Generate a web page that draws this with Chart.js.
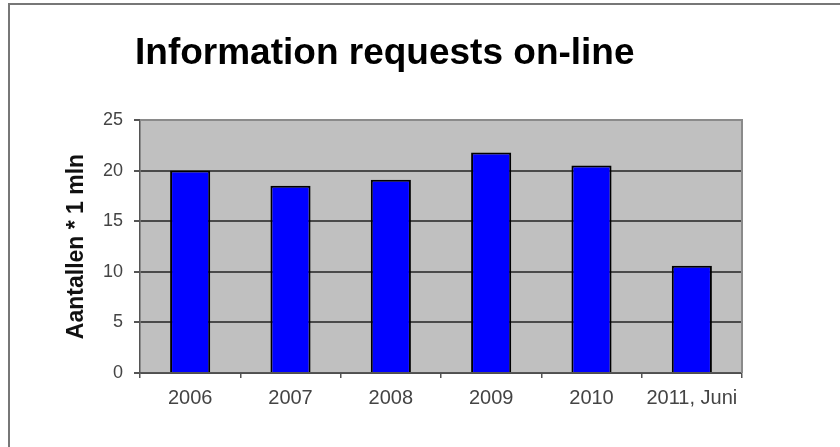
<!DOCTYPE html>
<html>
<head>
<meta charset="utf-8">
<script src="https://cdn.jsdelivr.net/npm/chart.js@4/dist/chart.umd.min.js"></script>
<style>
  html, body { margin: 0; padding: 0; background: #fff; }
  #wrap { position: relative; width: 840px; height: 447px; overflow: hidden; }
  #frame { position: absolute; left: 8px; top: 3px; right: -4px; bottom: -4px;
           border-top: 2px solid #777; border-left: 2px solid #777; }
  #myBarChart { position: absolute; left: 0; top: 0; }
</style>
</head>
<body>
<div id="wrap">
  <div id="frame"></div>
  <canvas id="myBarChart" width="840" height="447"></canvas>
</div>
<script>
var years = ['2006', '2007', '2008', '2009', '2010', '2011, Juni'];
var requests = [20.0, 18.5, 19.1, 21.8, 20.5, 10.6];
var yTicks = [0, 5, 10, 15, 20, 25];

// grey plot area + title text, like the old Excel chart
var plotBox = {
  id: 'plotBox',
  beforeDraw: function(chart) {
    var a = chart.chartArea, c = chart.ctx;
    c.save();
    c.fillStyle = '#c0c0c0';
    c.fillRect(a.left, a.top, a.right - a.left, a.bottom - a.top);
    c.restore();
  },
  beforeDatasetsDraw: function(chart) {
    var a = chart.chartArea, c = chart.ctx;
    c.save();
    c.strokeStyle = '#8a8a8a';
    c.lineWidth = 2;
    c.beginPath();
    c.moveTo(a.left, a.top);
    c.lineTo(a.right, a.top);
    c.lineTo(a.right, a.bottom);
    c.stroke();
    c.restore();
  },
  afterDraw: function(chart) {
    var c = chart.ctx;
    c.save();
    c.fillStyle = '#000';
    c.font = 'bold 37px "Liberation Sans", Arial, sans-serif';
    c.textBaseline = 'alphabetic';
    c.fillText('Information requests on-line', 135, 64);
    c.restore();
  }
};

var ctx = document.getElementById('myBarChart');
var myBarChart = new Chart(ctx, {
  type: 'bar',
  data: {
    labels: years,
    datasets: [{
      data: requests,
      backgroundColor: '#0000ff',
      borderColor: '#000',
      borderWidth: 2,
      categoryPercentage: 1,
      barPercentage: 0.4
    }]
  },
  options: {
    responsive: false,
    devicePixelRatio: 1,
    animation: false,
    layout: { padding: { left: 60, right: 98, top: 120, bottom: 34 } },
    plugins: { legend: { display: false }, tooltip: { enabled: false }, title: { display: false } },
    scales: {
      x: {
        afterFit: function(s) { s.height = 40; },
        grid: { drawOnChartArea: false, drawTicks: true, tickLength: 5, color: '#555', lineWidth: 1.5 },
        border: { color: '#555', width: 1.5 },
        ticks: { color: '#444', padding: 8, font: { family: '"Liberation Sans", Arial, sans-serif', size: 20 } }
      },
      y: {
        min: 0, max: 25,
        afterFit: function(s) { s.width = 80; },
        afterBuildTicks: function(s) { s.ticks = yTicks.map(function(v) { return { value: v }; }); },
        grid: { color: '#4a4a4a', lineWidth: 2, tickLength: 6, tickColor: '#555' },
        border: { color: '#555', width: 1.5 },
        ticks: { color: '#444', padding: 11, font: { family: '"Liberation Sans", Arial, sans-serif', size: 18 } },
        title: {
          display: true,
          text: 'Aantallen * 1 mln',
          color: '#111',
          padding: { top: 3, bottom: 0 },
          font: { family: '"Liberation Sans", Arial, sans-serif', size: 23, weight: 'bold' }
        }
      }
    }
  },
  plugins: [plotBox]
});
</script>
</body>
</html>
